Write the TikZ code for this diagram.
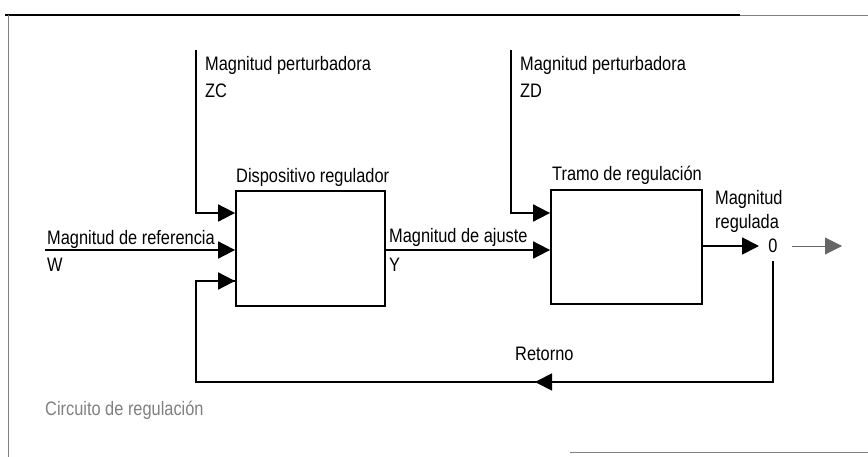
\documentclass[tikz,border=0pt]{standalone}
\usepackage{fontspec}
\usetikzlibrary{arrows.meta}
\newfontfamily\estrecha[FakeStretch=0.84]{Liberation Sans}
\newcommand\etiq{\estrecha\fontsize{19.5}{23}\selectfont}

\begin{document}
\begin{tikzpicture}[x=1pt, y=-1pt, >/.tip={Triangle[length=17pt,width=17pt]},
    linea/.style={line width=1.8pt},
    bloque/.style={draw, line width=1.8pt, inner sep=0pt},
    etiqueta/.style={font=\etiq, inner sep=0pt, anchor=base west}]
    \useasboundingbox (0,0) rectangle (868,457);
    % marco
    \draw[line width=1.2pt] (5,15) -- (740,15);
    \draw[gray, line width=0.8pt] (740,15) -- (868,15);
    \draw[gray, line width=0.6pt] (8,15) -- (8,457);
    \draw[gray, line width=0.8pt] (570,452) -- (868,452);
    % bloques
    \node[bloque, minimum width=149pt, minimum height=115pt] (disp) at (310.5,248.5) {};
    \node[bloque, minimum width=151pt, minimum height=114pt] (tramo) at (626.5,247) {};
    \node[etiqueta] (tdisp) at (236,183) {Dispositivo regulador};
    \node[etiqueta] (ttramo) at (552,181) {Tramo de regulación};
    % perturbaciones
    \coordinate (zc) at (196,50);
    \coordinate (zd) at (511,50);
    \node[etiqueta] (tzc) at (205,71) {Magnitud perturbadora};
    \node[etiqueta] (tzc2) at (205,98) {ZC};
    \node[etiqueta] (tzd) at (520,71) {Magnitud perturbadora};
    \node[etiqueta] (tzd2) at (520,98) {ZD};
    \draw[linea, ->] (zc) |- (disp.west |- 0,213);
    \draw[linea, ->] (zd) |- (tramo.west |- 0,213);
    % referencia
    \coordinate (w) at (45,250);
    \node[etiqueta] (tw) at (47,245) {Magnitud de referencia};
    \node[etiqueta] (tw2) at (47,272) {W};
    \draw[linea, ->] (w) -- (disp.west |- w);
    % ajuste
    \node[etiqueta] (ty) at (389,243) {Magnitud de ajuste};
    \node[etiqueta] (ty2) at (389,272) {Y};
    \draw[linea, ->] (disp.east |- 0,250) -- (tramo.west |- 0,250);
    % salida
    \node[etiqueta] (tx) at (715,205) {Magnitud};
    \node[etiqueta] (tx2) at (715,229) {regulada};
    \node[font=\etiq, inner sep=0pt] (salida) at (773,246) {0};
    \coordinate (fuera) at (842,246);
    \draw[linea, ->] (tramo.east |- salida) -- ([xshift=-14pt]salida.center);
    \draw[gray!80!black, line width=0.9pt, ->] ([xshift=19pt]salida.center) -- (fuera);
    % retorno
    \coordinate (r1) at (773,382);
    \coordinate (r2) at (196,382);
    \coordinate (rflecha) at (535,382);
    \draw[linea] ([yshift=-15pt]salida.center) -- (r1) -- (r2) -- (196,281) -- (disp.west |- 0,281);
    \draw[linea, ->] (disp.west |- 0,281) ++(-1pt,0) -- (disp.west |- 0,281);
    \draw[linea, ->] (r1) -- (rflecha);
    \node[etiqueta] (tret) at (515,360) {Retorno};
    \node[etiqueta, text=gray] (tcirc) at (45,415) {Circuito de regulación};
\end{tikzpicture}
\end{document}
